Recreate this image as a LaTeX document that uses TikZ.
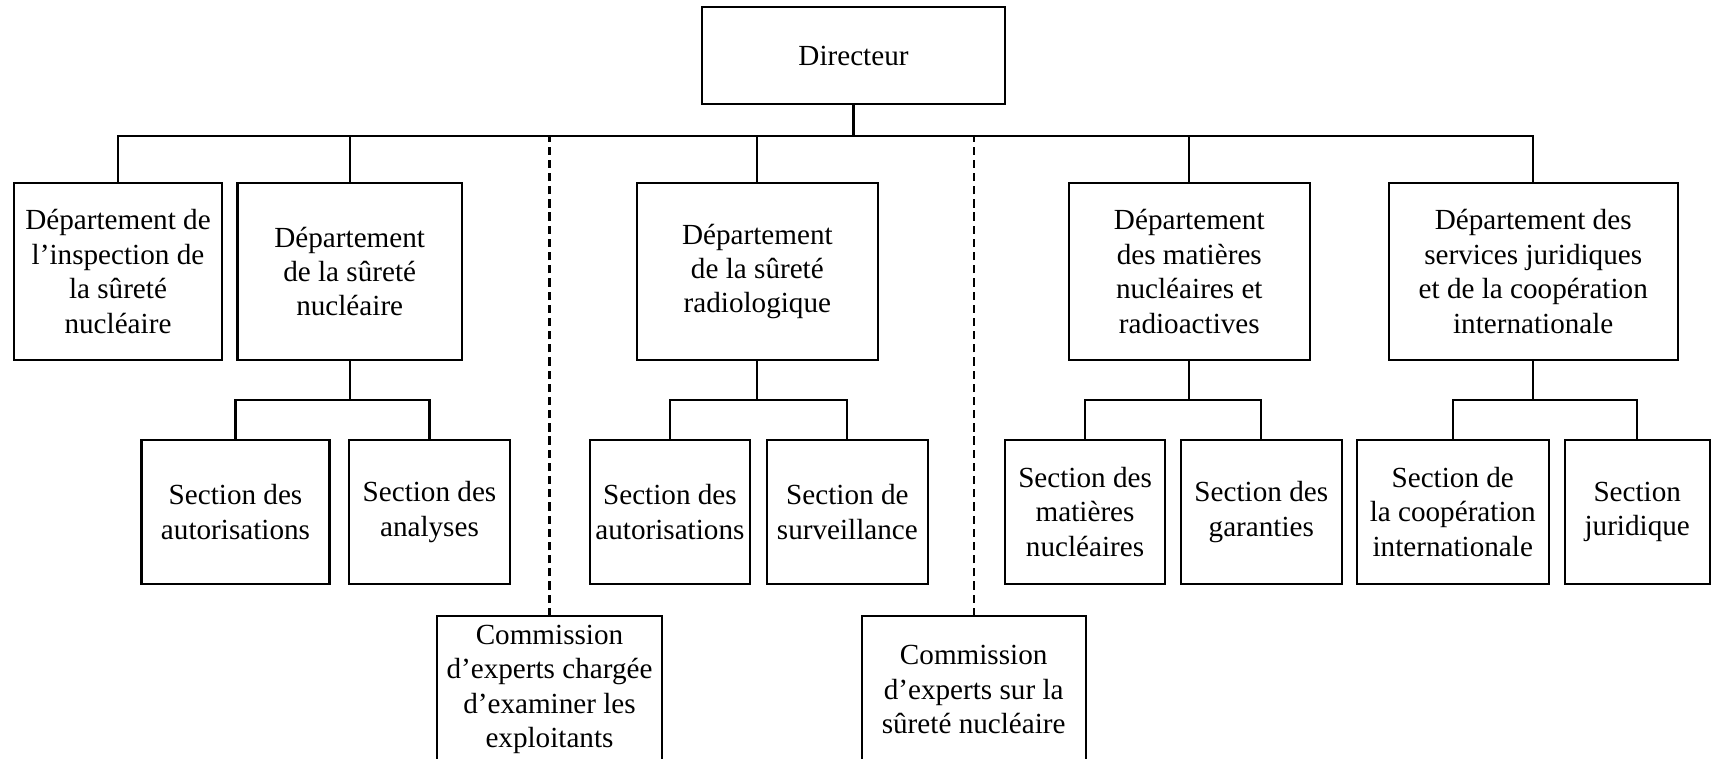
\documentclass[tikz,border=0pt]{standalone}
\usepackage{fontspec}
\setmainfont{Liberation Serif}
\usetikzlibrary{positioning}

\begin{document}
\begin{tikzpicture}[
    x=0.02cm, y=0.02cm, % one unit is one pixel of the reference
    line width=1.2pt,
    orgbox/.style={draw, align=center, inner sep=1pt, outer sep=0pt, font=\fontsize{16.6pt}{19.6pt}\selectfont},
    dirbox/.style={orgbox, minimum width=60.6mm, minimum height=19.4mm},
    deptbox/.style={orgbox, minimum height=35.4mm},
    secbox/.style={orgbox, minimum height=28.8mm},
    combox/.style={orgbox, minimum height=29.4mm},
    advisory/.style={dash pattern=on 4.7pt off 2.8pt}
]
\useasboundingbox (0,0) rectangle (1717,758);

% Director
\node (dir) [dirbox] at (853.5,702.5) {Directeur};

% Departments
\node (insp) [deptbox, minimum width=41.6mm] at (118,486.5) {Département de\\l’inspection de\\la sûreté\\nucléaire};
\node (nucl) [deptbox, minimum width=44.9mm, right=3.1mm of insp] {Département\\de la sûreté\\nucléaire};
\node (radio) [deptbox, minimum width=48.2mm, right=35mm of nucl] {Département\\de la sûreté\\radiologique};
\node (mat) [deptbox, minimum width=48.2mm, right=38.2mm of radio] {Département\\des matières\\nucléaires et\\radioactives};
\node (jur) [deptbox, minimum width=57.8mm, right=15.8mm of mat] {Département des\\services juridiques\\et de la coopération\\internationale};

% Sections
\node (sec_aut1) [secbox, minimum width=37.6mm] at (235.5,246) {Section des\\autorisations};
\node (sec_ana) [secbox, minimum width=32.2mm, right=3.9mm of sec_aut1] {Section des\\analyses};
\node (sec_aut2) [secbox, minimum width=32mm, right=16mm of sec_ana] {Section des\\autorisations};
\node (sec_surv) [secbox, minimum width=32.2mm, right=3.4mm of sec_aut2] {Section de\\surveillance};
\node (sec_mat) [secbox, minimum width=32.1mm, right=15.4mm of sec_surv] {Section des\\matières\\nucléaires};
\node (sec_gar) [secbox, minimum width=32.2mm, right=3.1mm of sec_mat] {Section des\\garanties};
\node (sec_coop) [secbox, minimum width=38.4mm, right=3mm of sec_gar] {Section de\\la coopération\\internationale};
\node (sec_jur) [secbox, minimum width=29mm, right=3.2mm of sec_coop] {Section\\juridique};

% Expert commissions
\node (com_expl) [combox, minimum width=45mm] at (549.5,68.5) {Commission\\d’experts chargée\\d’examiner les\\exploitants};
\node (com_sur) [combox, minimum width=44.8mm] at (973.7,68.5) {Commission\\d’experts sur la\\sûreté nucléaire};

% Main bus under the director
\coordinate (bus) at (0,622.3);
\draw (dir.south) -- (dir.south |- bus);
\draw (insp.north) -- (insp.north |- bus) -- (jur.north |- bus) -- (jur.north);
\foreach \d in {nucl, radio, mat}
    \draw (\d.north) -- (\d.north |- bus);

% Advisory links
\draw[advisory] (com_expl.north) -- (com_expl.north |- bus);
\draw[advisory] (com_sur.north) -- (com_sur.north |- bus);

% Department to section links
\coordinate (subbus) at (0,358);
\foreach \d/\a/\b in {nucl/sec_aut1/sec_ana, radio/sec_aut2/sec_surv, mat/sec_mat/sec_gar, jur/sec_coop/sec_jur} {
    \draw (\d.south) -- (\d.south |- subbus);
    \draw (\a.north) -- (\a.north |- subbus) -| (\b.north);
}

\end{tikzpicture}
\end{document}
